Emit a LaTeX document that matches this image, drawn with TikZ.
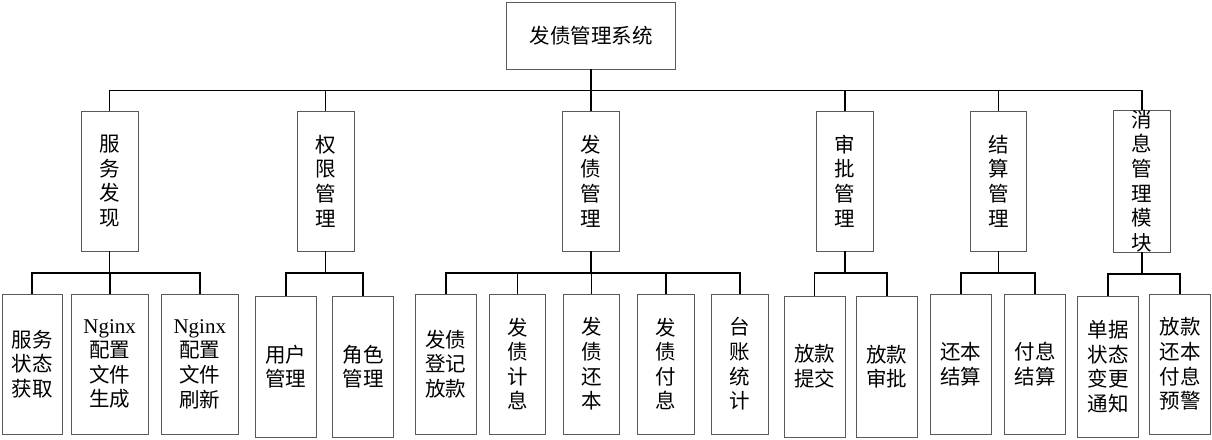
\documentclass[tikz,border=0pt]{standalone}
\usepackage{fontspec}
\setmainfont{Liberation Serif}
\newfontfamily\cjk{Noto Sans CJK SC}
\begin{document}
\begin{tikzpicture}[x=1pt,y=-1pt,
  box/.style={draw=black!65,line width=0.9pt,fill=white,inner sep=0pt,align=center,
    font=\cjk\fontsize{20.5}{24.6}\selectfont},
  conn/.style={draw=black,line width=1.8pt,line cap=rect}]
\useasboundingbox (0,0) rectangle (1212,439);
\newcommand{\bx}[6]{\node[box,minimum width={#3-#2},minimum height={#5-#4}] (#1) at ({(#2+#3)/2},{(#4+#5)/2}) {#6};}
\newcommand{\ngx}{{\rmfamily\fontsize{21}{24.6}\selectfont Nginx}}
% root
\bx{root}{506.7}{675.3}{2}{69}{发债管理系统}
% level 2
\bx{svc}{81}{138}{111}{251}{服\\务\\发\\现}
\bx{auth}{297}{354}{111}{251}{权\\限\\管\\理}
\bx{debt}{562.7}{619.3}{111}{251}{发\\债\\管\\理}
\bx{appr}{816.7}{873.3}{111}{251}{审\\批\\管\\理}
\bx{sett}{970.3}{1026.7}{111}{251}{结\\算\\管\\理}
\bx{msg}{1113.7}{1170}{111}{251}{消\\息\\管\\理\\模\\块}
% level 3
\bx{a1}{2}{62.7}{294}{434}{服务\\状态\\获取}
\bx{a2}{71}{148.3}{294}{434}{\ngx\\配置\\文件\\生成}
\bx{a3}{161.3}{238.3}{294}{434}{\ngx\\配置\\文件\\刷新}
\bx{b1}{255.3}{316}{296}{437}{用户\\管理}
\bx{b2}{332.7}{393.3}{296}{437}{角色\\管理}
\bx{c1}{415.3}{476}{294}{434}{发债\\登记\\放款}
\bx{c2}{489.3}{545.7}{294}{434}{发\\债\\计\\息}
\bx{c3}{563.3}{619.7}{294}{434}{发\\债\\还\\本}
\bx{c4}{637.7}{694}{294}{434}{发\\债\\付\\息}
\bx{c5}{711.7}{768.3}{294}{434}{台\\账\\统\\计}
\bx{d1}{784}{845}{296}{437}{放款\\提交}
\bx{d2}{856.3}{917.3}{296}{437}{放款\\审批}
\bx{e1}{930.3}{991.3}{294}{434}{还本\\结算}
\bx{e2}{1004.7}{1065.7}{294}{434}{付息\\结算}
\bx{f1}{1077.7}{1138.3}{296}{437}{单据\\状态\\变更\\通知}
\bx{f2}{1149.7}{1210.7}{294}{434}{放款\\还本\\付息\\预警}
% connectors
\foreach \c in {svc,auth,debt,appr,sett,msg}
  \draw[conn] (root.south) -- ++(0,21) -| (\c.north);
\foreach \p/\c in {svc/a1,svc/a2,svc/a3,auth/b1,auth/b2,debt/c1,debt/c2,debt/c3,debt/c4,debt/c5,appr/d1,appr/d2,sett/e1,sett/e2,msg/f1,msg/f2}
  \draw[conn] (\p.south) -- ++(0,21.7) -| (\c.north);
\end{tikzpicture}
\end{document}
